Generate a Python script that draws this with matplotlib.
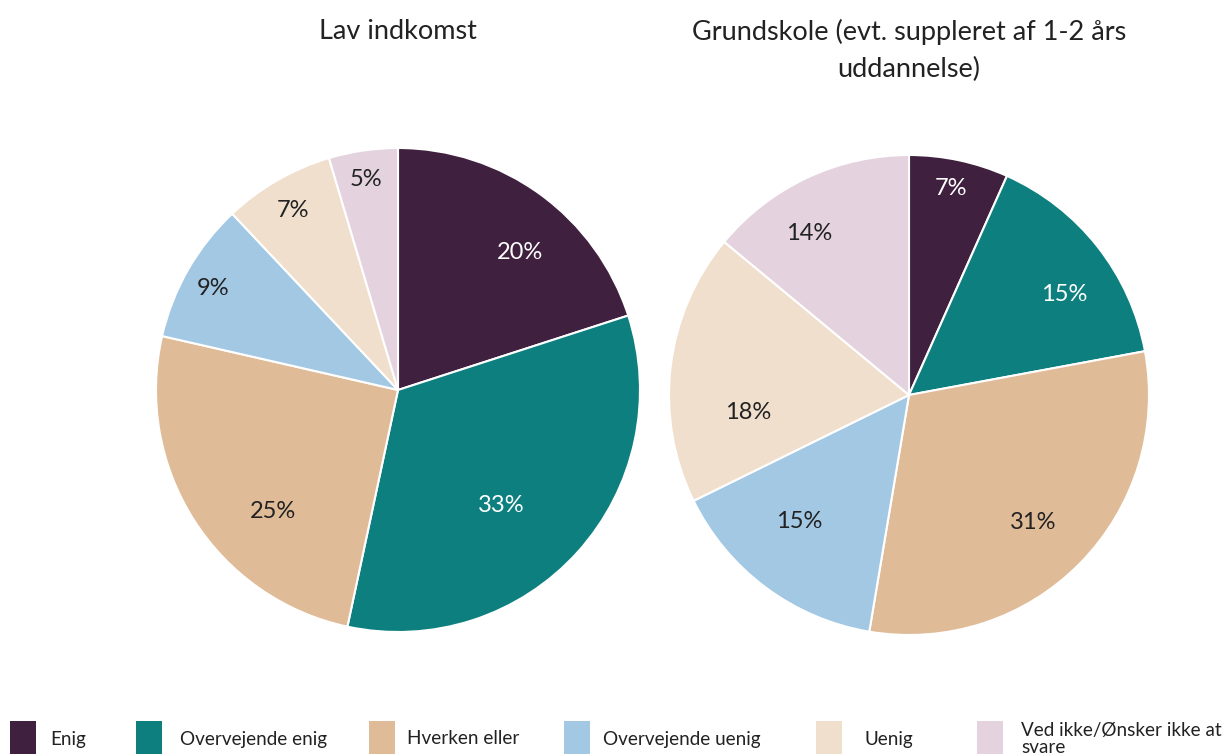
import numpy as np
import matplotlib
matplotlib.use('Agg')
import matplotlib.pyplot as plt
from matplotlib.patches import Rectangle

plt.rcParams['font.family'] = ['Lato', 'DejaVu Sans']

categories = ['Enig', 'Overvejende enig', 'Hverken eller', 'Overvejende uenig',
              'Uenig', 'Ved ikke/Ønsker ikke at\nsvare']
lav_indkomst = [20.0, 33.3, 25.2, 9.4, 7.4, 4.6]
grundskole = [6.7, 15.4, 30.6, 15.1, 18.3, 14.0]
titles = ['Lav indkomst', 'Grundskole (evt. suppleret af 1-2 års\nuddannelse)']

colors = ['#40203f', '#0d7f7f', '#e0bb98', '#a3c8e4', '#f0dfcc', '#e4d3de']
textcolors = ['white', 'white', '#222222', '#222222', '#222222', '#222222']

W, H = 1229, 754
fig = plt.figure(figsize=(W / 100, H / 100), dpi=100)

# pie axes positions in pixels: (left, bottom, size)
pie_boxes = [(156, 122, 484), (669, 119, 480)]
# label placement tweaks: angle shift (deg) from wedge middle, radius fraction
label_shift = [[-5.5, -6, 11.8, 1, 0.5, 0.3], [0.6, -5.3, -1.2, -4.3, 12.8, 6.5]]
label_rad = [[0.76, 0.64, 0.72, 0.87, 0.86, 0.88], [0.88, 0.77, 0.74, 0.70, 0.675, 0.79]]


def draw_pie(box, values, title, shifts, rads):
        left, bottom, size = box
        ax = fig.add_axes([left / W, bottom / H, size / W, size / H])
        wedges, _ = ax.pie(values, colors=colors, startangle=90, counterclock=False,
                           wedgeprops=dict(edgecolor='white', linewidth=1.5))
        total = sum(values)
        for w, v, tc, da, r in zip(wedges, values, textcolors, shifts, rads):
                pct = 100 * v / total
                mid = np.deg2rad((w.theta1 + w.theta2) / 2 + da)
                ax.text(r * np.cos(mid), r * np.sin(mid), '%d%%' % round(pct),
                        ha='center', va='center', fontsize=17, color=tc)
        ax.set_xlim(-1, 1)
        ax.set_ylim(-1, 1)
        ax.set_aspect('equal')
        ax.axis('off')
        cx = (left + size / 2) / W
        fig.text(cx, 1 - 19 / H, title, ha='center', va='top', fontsize=19.5,
                 color='#222222', linespacing=1.6)


for box, vals, t, s, r in zip(pie_boxes, [lav_indkomst, grundskole], titles, label_shift, label_rad):
        draw_pie(box, vals, t, s, r)

# legend along the bottom edge
legend_box_x = [10, 136, 369, 564, 816, 977]
legend_text_x = [50, 180, 407, 603, 864, 1021]
for c, lab, bx, tx in zip(colors, categories, legend_box_x, legend_text_x):
        fig.add_artist(Rectangle((bx / W, 0), 26 / W, 33 / H, transform=fig.transFigure,
                                 facecolor=c, edgecolor='none'))
        fig.text(tx / W, 15 / H, lab, ha='left', va='center', fontsize=13.6,
                 color='#222222', linespacing=1.0)

fig.savefig('out.png', dpi=100)
